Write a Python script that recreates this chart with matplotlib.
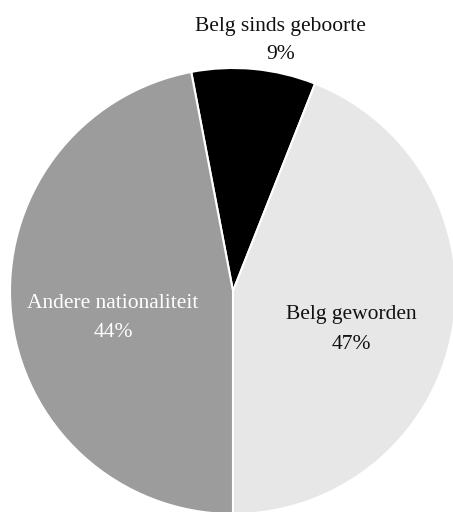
"""
Pie chart: nationaliteit (Belg sinds geboorte / Belg geworden / Andere nationaliteit).
"""

import matplotlib
matplotlib.use("Agg")

import matplotlib.pyplot as plt
import numpy as np

CATEGORIES = ["Belg sinds geboorte", "Belg geworden", "Andere nationaliteit"]
# percentages as printed on the labels
LABEL_SHARES = [9, 47, 44]
# wedge sizes as drawn in the reference (the light wedge is the smaller one)
WEDGE_SHARES = [9, 44, 47]
COLORS = ["#000000", "#e7e7e7", "#9b9c9b"]
TEXT_COLORS = ["#111111", "#111111", "#ffffff"]

W, H = 453, 512
CX, CY, R = 233, 291, 223  # pie centre / radius in pixels

plt.rcParams["font.family"] = ["Liberation Serif", "DejaVu Serif"]
FS = 15.5

fig = plt.figure(figsize=(W / 100, H / 100), dpi=100)
ax = fig.add_axes([0, 0, 1, 1])

wedges, _ = ax.pie(
    WEDGE_SHARES,
    colors=COLORS,
    startangle=90 + 0.03 * 360,
    counterclock=False,
    radius=1,
    wedgeprops=dict(edgecolor="white", linewidth=1.5),
)

# canvas cuts the pie on the right and at the bottom, like the original
ax.set_xlim(-CX / R, (W - CX) / R)
ax.set_ylim(-(H - CY) / R, CY / R)
ax.set_aspect("auto")
ax.axis("off")

for i, (w, name, pct) in enumerate(zip(wedges, CATEGORIES, LABEL_SHARES)):
    mid = np.deg2rad((w.theta1 + w.theta2) / 2)
    style = dict(textcoords="offset points", ha="center", va="center",
                 fontsize=FS, color=TEXT_COLORS[i])
    if i == 0:
        # small slice: label outside, above the pie, pushed a bit to the right
        x, y = 1.13 * np.cos(mid), 1.13 * np.sin(mid)
        ax.annotate(name, (x, y), xytext=(17, 10), **style)
        ax.annotate(f"{pct}%", (x, y), xytext=(17, -10.5), **style)
    else:
        x, y = 0.54 * np.cos(mid), 0.54 * np.sin(mid)
        ax.annotate(name, (x, y), xytext=(0, -1), **style)
        ax.annotate(f"{pct}%", (x, y), xytext=(0, -22), **style)

fig.savefig("out.png", dpi=100, facecolor="white")
